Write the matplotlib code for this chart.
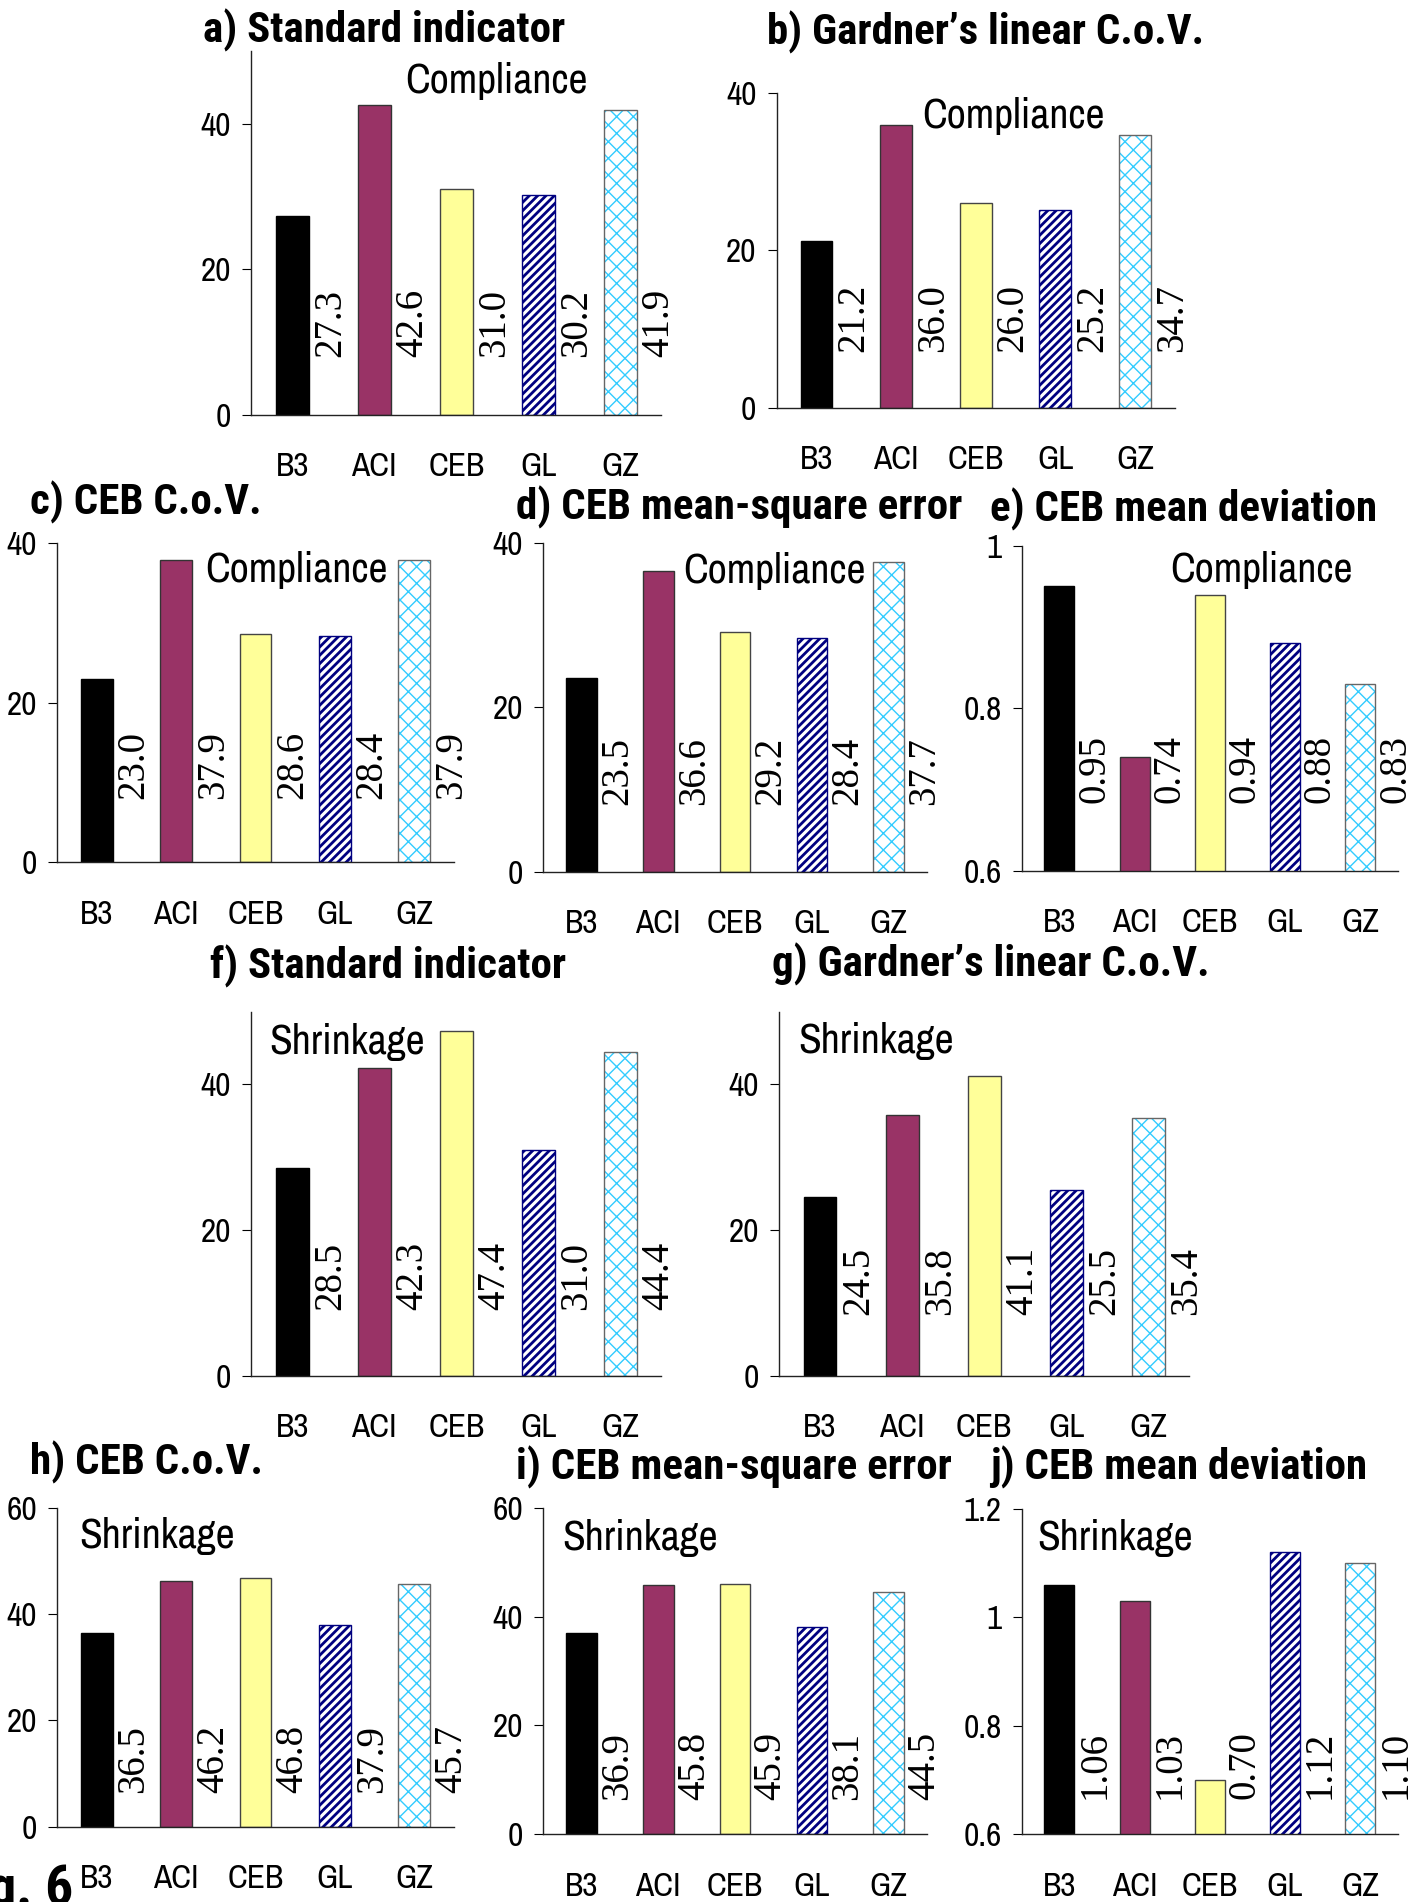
import matplotlib
matplotlib.use("Agg")
import matplotlib.pyplot as plt
from matplotlib import font_manager as fm
from matplotlib.ticker import FuncFormatter

models = ["B3", "ACI", "CEB", "GL", "GZ"]

# values, one list per panel
std_compl = [27.3, 42.6, 31.0, 30.2, 41.9]
gard_compl = [21.2, 36.0, 26.0, 25.2, 34.7]
cov_compl = [23.0, 37.9, 28.6, 28.4, 37.9]
mse_compl = [23.5, 36.6, 29.2, 28.4, 37.7]
mdev_compl = [0.95, 0.74, 0.94, 0.88, 0.83]
std_shr = [28.5, 42.3, 47.4, 31.0, 44.4]
gard_shr = [24.5, 35.8, 41.1, 25.5, 35.4]
cov_shr = [36.5, 46.2, 46.8, 37.9, 45.7]
mse_shr = [36.9, 45.8, 45.9, 38.1, 44.5]
mdev_shr = [1.06, 1.03, 0.70, 1.12, 1.10]

titles = ["a) Standard indicator", "b) Gardner\u2019s linear C.o.V.", "c) CEB C.o.V.",
          "d) CEB mean-square error", "e) CEB mean deviation",
          "f) Standard indicator", "g) Gardner\u2019s linear C.o.V.", "h) CEB C.o.V.",
          "i) CEB mean-square error", "j) CEB mean deviation"]
kinds = ["Compliance"] * 5 + ["Shrinkage"] * 5
values = [std_compl, gard_compl, cov_compl, mse_compl, mdev_compl,
          std_shr, gard_shr, cov_shr, mse_shr, mdev_shr]
ylims = [(0, 50), (0, 40), (0, 40), (0, 40), (0.6, 1.0),
         (0, 50), (0, 50), (0, 60), (0, 60), (0.6, 1.2)]
yticks = [[0, 20, 40], [0, 20, 40], [0, 20, 40], [0, 20, 40], [0.6, 0.8, 1.0],
          [0, 20, 40], [0, 20, 40], [0, 20, 40, 60], [0, 20, 40, 60], [0.6, 0.8, 1.0, 1.2]]
fmts = ["%.1f"] * 4 + ["%.2f"] + ["%.1f"] * 4 + ["%.2f"]

# layout, measured on a 1171x1568 copy: axes (left, right, base, top), title, note, label offset
W, H = 1171., 1568.
boxes = [(207, 545, 342, 42), (640, 968, 336, 77), (47, 374, 711, 448),
         (447.5, 764, 718.5, 447.5), (842, 1152, 718, 450),
         (207, 545, 1134, 834), (642, 980, 1134, 834), (47, 374, 1506, 1243),
         (447.5, 764, 1512, 1243), (842, 1152, 1512, 1244)]
title_xy = [(167, 25), (632, 27), (25, 414), (425, 418), (816, 420),
            (173, 797), (636, 795), (25, 1206), (425, 1210), (816, 1210)]
note_xy = [(334, 67), (760, 96), (169, 470), (563, 471), (964, 470),
           (222, 859), (658, 858), (65, 1266), (463, 1268), (855, 1268)]
lab_off = [48, 46, 52, 55, 56, 54, 50, 28, 28, 29]

# pick a narrow sans like Arial Narrow if one is installed
weights = {}
for f in fm.fontManager.ttflist:
    w = f.weight if isinstance(f.weight, int) else 400
    weights.setdefault(f.name, set()).add(w)
cands = ["Liberation Sans Narrow", "Arial Narrow", "Archivo Narrow", "Roboto Condensed",
         "PT Sans Narrow", "Pragati Narrow", "Fira Sans Condensed", "IBM Plex Sans Condensed",
         "Asap Condensed", "Encode Sans Condensed", "Barlow Semi Condensed"]
narrow = next((c for c in cands if c in weights), "Liberation Sans")
heavy = next((c for c in cands if c in weights and max(weights[c]) >= 600), narrow)
heavy_w = 600 if 600 in weights.get(heavy, set()) else "bold"
NARROW = [narrow, "DejaVu Sans"]
HEAVY = [heavy, "DejaVu Sans"]
SERIF = ["Liberation Serif", "DejaVu Serif"]

fig = plt.figure(figsize=(14.21, 19.02), dpi=100)

for k in range(10):
    l, r, b, t = boxes[k]
    ax = fig.add_axes([l / W, 1 - b / H, (r - l) / W, (b - t) / H])
    x = list(range(5))
    v = values[k]
    ax.bar(x[0], v[0], width=0.4, color="black", edgecolor="black", linewidth=1)
    ax.bar(x[1], v[1], width=0.4, color="#993366", edgecolor="#333333", linewidth=1)
    ax.bar(x[2], v[2], width=0.4, color="#ffff99", edgecolor="#444444", linewidth=1)
    with plt.rc_context({"hatch.linewidth": 2.0}):
        ax.bar(x[3], v[3], width=0.4, color="white", edgecolor="#000080", hatch="////", linewidth=1)
    with plt.rc_context({"hatch.linewidth": 1.0}):
        ax.bar(x[4], v[4], width=0.4, color="white", edgecolor="#33ccff", hatch="xx", linewidth=0)
    ax.bar(x[4], v[4], width=0.4, fill=False, edgecolor="#666666", linewidth=1)

    lo, hi = ylims[k]
    ax.set_xlim(-0.5, 4.5)
    ax.set_ylim(lo, hi)
    ax.set_yticks(yticks[k])
    ax.yaxis.set_major_formatter(FuncFormatter(lambda y, p: "%g" % y))
    ax.set_xticks(x)
    ax.set_xticklabels(models)
    ax.tick_params(axis="x", length=0, pad=27)
    ax.tick_params(axis="y", length=6.5, width=0.8, direction="out", pad=8)
    for lab in ax.get_xticklabels() + ax.get_yticklabels():
        lab.set_family(NARROW)
        lab.set_fontsize(24)
    ax.spines["top"].set_visible(False)
    ax.spines["right"].set_visible(False)
    for s in ("left", "bottom"):
        ax.spines[s].set_linewidth(1.0)
        ax.spines[s].set_color("#222222")

    off = lab_off[k] / (b - t) * (hi - lo)
    for i in x:
        ax.text(i + 0.47, lo + off, fmts[k] % v[i], rotation=90, ha="center", va="bottom",
                family=SERIF, fontsize=28, clip_on=False)

    tx, ty = title_xy[k]
    fig.text(tx / W, 1 - ty / H, titles[k], ha="left", va="center", family=HEAVY,
             weight=heavy_w, fontsize=31)
    nx, ny = note_xy[k]
    fig.text(nx / W, 1 - ny / H, kinds[k], ha="left", va="center", family=NARROW, fontsize=30)

fig.text(60 / W, -3 / 1902., "Fig. 6", ha="right", va="baseline", family=HEAVY,
         weight="bold", fontsize=40)

fig.savefig("out.png", dpi=100)
